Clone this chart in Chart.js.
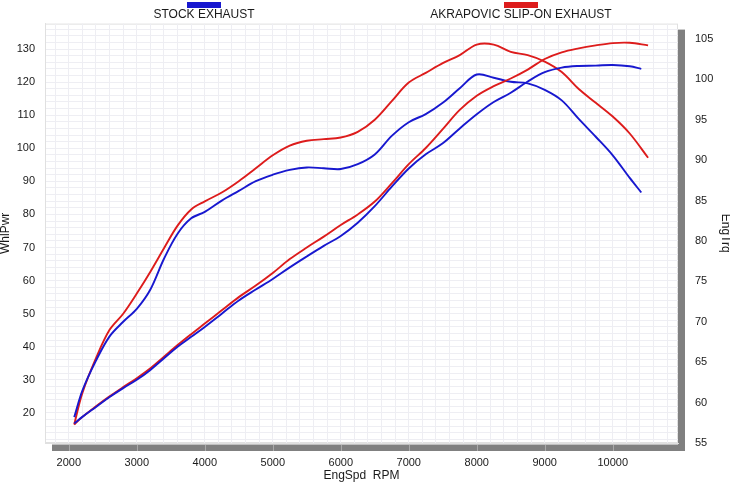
<!DOCTYPE html>
<html>
<head>
<meta charset="utf-8">
<title>Dyno chart</title>
<script src="https://cdn.jsdelivr.net/npm/chart.js@4.4.1/dist/chart.umd.min.js"></script>
<style>
  body { margin: 0; background: #fff; }
  canvas { display: block; }
</style>
</head>
<body>
<canvas id="dyno" width="730" height="483"></canvas>
<script>
// engine speed samples (rpm) - stock run ends a bit earlier than the akrapovic run
const rpmStock = [2080, 2200, 2400, 2600, 2800, 3000, 3200, 3400, 3600, 3800, 4000, 4250, 4500, 4750,
    5000, 5250, 5500, 5750, 6000, 6250, 6500, 6750, 7000, 7250, 7500, 7750, 8000, 8250, 8500, 8750,
    9000, 9250, 9500, 9750, 10000, 10250, 10420];
const rpmAkra = [2080, 2200, 2400, 2600, 2800, 3000, 3200, 3400, 3600, 3800, 4000, 4250, 4500, 4750,
    5000, 5250, 5500, 5750, 6000, 6250, 6500, 6750, 7000, 7250, 7500, 7750, 8000, 8250, 8500, 8750,
    9000, 9250, 9500, 9750, 10000, 10250, 10520];

// wheel power (left axis)
const stockPower = [16.8, 18.8, 21.8, 24.8, 27.5, 30.0, 33.0, 36.5, 40.0, 43.0, 46.0, 50.0, 54.0, 57.3,
    60.5, 64.0, 67.3, 70.5, 73.5, 77.5, 82.5, 88.4, 93.9, 98.2, 101.5, 106.0, 110.3, 114.0, 116.8, 120.2,
    123.0, 124.4, 124.9, 125.0, 125.2, 124.8, 124.0];
const akraPower = [16.5, 18.8, 22.0, 25.0, 27.8, 30.5, 33.5, 37.0, 40.5, 43.8, 47.0, 51.0, 55.0, 58.5,
    62.3, 66.5, 70.0, 73.3, 76.8, 80.0, 83.9, 89.4, 95.2, 100.1, 105.8, 111.6, 115.9, 118.8, 121.1, 123.8,
    127.0, 129.0, 130.2, 131.1, 131.8, 131.9, 131.1];

// engine torque (right axis)
const stockTorque = [58.2, 61.5, 65.2, 68.2, 70.0, 71.6, 74.0, 77.8, 80.9, 82.8, 83.6, 85.0, 86.2, 87.4,
    88.2, 88.8, 89.1, 89.0, 88.9, 89.5, 90.7, 93.0, 94.7, 95.7, 97.1, 98.9, 100.6, 100.2, 99.7, 99.5,
    98.7, 97.4, 95.1, 92.9, 90.6, 87.8, 86.0];
const akraTorque = [57.3, 61.2, 65.5, 69.0, 71.0, 73.5, 76.2, 79.1, 81.9, 83.9, 84.9, 86.0, 87.4, 89.0,
    90.6, 91.8, 92.4, 92.6, 92.8, 93.5, 95.0, 97.3, 99.6, 100.8, 102.0, 103.0, 104.3, 104.3, 103.4, 103.0,
    102.2, 100.9, 98.8, 97.1, 95.4, 93.3, 90.3];

// tick labels
const rpmTicks = [2000, 3000, 4000, 5000, 6000, 7000, 8000, 9000, 10000];
const powerTicks = [20, 30, 40, 50, 60, 70, 80, 90, 100, 110, 120, 130];
const torqueTicks = [55, 60, 65, 70, 75, 80, 85, 90, 95, 100, 105];

const seriesNames = ['STOCK EXHAUST', 'AKRAPOVIC SLIP-ON EXHAUST'];

const BLUE = '#1818cf';
const RED = '#dd1c1c';
const FONT = '"Liberation Sans", Arial, Helvetica, sans-serif';
const GRID = '#eeeef3';

const toPoints = (xs, ys) => xs.map((x, i) => ({ x: x, y: ys[i] }));

// grey drop shadow behind the plot, white plot area, little marks in the bottom bar
const framePlugin = {
    id: 'frame',
    beforeDraw(chart) {
        const { ctx, chartArea: a, scales } = chart;
        const w = a.right - a.left;
        const h = a.bottom - a.top;
        ctx.save();
        ctx.fillStyle = '#808080';
        ctx.fillRect(a.left + 7, a.top + 6, w, h + 2);
        ctx.fillStyle = '#ffffff';
        ctx.fillRect(a.left, a.top, w, h + 1.5);
        ctx.strokeStyle = '#a9a9a9';
        ctx.lineWidth = 1;
        rpmTicks.forEach(v => {
            const px = Math.round(scales.x.getPixelForValue(v)) + 0.5;
            ctx.beginPath();
            ctx.moveTo(px, a.bottom + 2);
            ctx.lineTo(px, a.bottom + 8);
            ctx.stroke();
        });
        ctx.strokeStyle = '#e0e0e0';
        ctx.strokeRect(a.left + 0.5, a.top + 0.5, w - 1, h - 1);
        ctx.restore();
    },
    // legend: swatch sitting above the text
    afterDraw(chart) {
        const { ctx } = chart;
        const centres = [204, 521];
        const colours = [BLUE, RED];
        ctx.save();
        ctx.font = '12px ' + FONT;
        ctx.textAlign = 'center';
        ctx.textBaseline = 'middle';
        seriesNames.forEach((name, i) => {
            ctx.fillStyle = colours[i];
            ctx.fillRect(centres[i] - 17, 2, 34, 6);
            ctx.fillStyle = '#1a1a1a';
            ctx.fillText(name, centres[i], 15);
        });
        ctx.restore();
    }
};

new Chart(document.getElementById('dyno'), {
    type: 'line',
    data: {
        datasets: [{
            label: seriesNames[0] + ' WhlPwr',
            data: toPoints(rpmStock, stockPower),
            borderColor: BLUE,
            yAxisID: 'y'
        }, {
            label: seriesNames[1] + ' WhlPwr',
            data: toPoints(rpmAkra, akraPower),
            borderColor: RED,
            yAxisID: 'y'
        }, {
            label: seriesNames[0] + ' EngTrq',
            data: toPoints(rpmStock, stockTorque),
            borderColor: BLUE,
            yAxisID: 'y2'
        }, {
            label: seriesNames[1] + ' EngTrq',
            data: toPoints(rpmAkra, akraTorque),
            borderColor: RED,
            yAxisID: 'y2'
        }]
    },
    options: {
        responsive: false,
        animation: false,
        devicePixelRatio: 1,
        layout: { padding: { top: 22, left: 0, right: 0, bottom: 0 } },
        elements: {
            point: { radius: 0 },
            line: { borderWidth: 1.9, tension: 0.35, fill: false }
        },
        plugins: {
            legend: { display: false },
            tooltip: { enabled: false }
        },
        scales: {
            x: {
                type: 'linear',
                min: 1650,
                max: 10960,
                afterFit(s) { s.height = 40; },
                grid: { color: GRID, drawTicks: false },
                border: { color: '#e0e0e0' },
                ticks: {
                    stepSize: 200,
                    includeBounds: false,
                    autoSkip: false,
                    maxRotation: 0,
                    padding: 13,
                    color: '#1a1a1a',
                    font: { family: FONT, size: 11 },
                    callback: v => rpmTicks.includes(v) ? String(v) : ''
                },
                title: {
                    display: true,
                    text: 'EngSpd  RPM',
                    color: '#1a1a1a',
                    font: { family: FONT, size: 12 },
                    padding: 0
                }
            },
            y: {
                position: 'left',
                min: 10.9,
                max: 137.7,
                afterFit(s) { s.width = 45; },
                grid: { color: GRID, drawTicks: false },
                border: { color: '#e0e0e0' },
                ticks: {
                    stepSize: 2,
                    includeBounds: false,
                    autoSkip: false,
                    padding: 10,
                    color: '#1a1a1a',
                    font: { family: FONT, size: 11 },
                    callback: v => powerTicks.includes(v) ? String(v) : ''
                },
                title: {
                    display: true,
                    text: 'WhlPwr',
                    color: '#1a1a1a',
                    font: { family: FONT, size: 12, lineHeight: 1 },
                    padding: 0
                }
            },
            y2: {
                position: 'right',
                min: 55,
                max: 106.9,
                afterFit(s) { s.width = 52; },
                grid: { drawOnChartArea: false, drawTicks: false },
                border: { display: false },
                ticks: {
                    stepSize: 5,
                    includeBounds: false,
                    padding: 17,
                    color: '#1a1a1a',
                    font: { family: FONT, size: 11 },
                    callback: v => torqueTicks.includes(v) ? String(v) : ''
                },
                title: {
                    display: true,
                    text: 'EngTrq',
                    color: '#1a1a1a',
                    font: { family: FONT, size: 12, lineHeight: 0.85 },
                    padding: 0
                }
            }
        }
    },
    plugins: [framePlugin]
});
</script>
</body>
</html>
